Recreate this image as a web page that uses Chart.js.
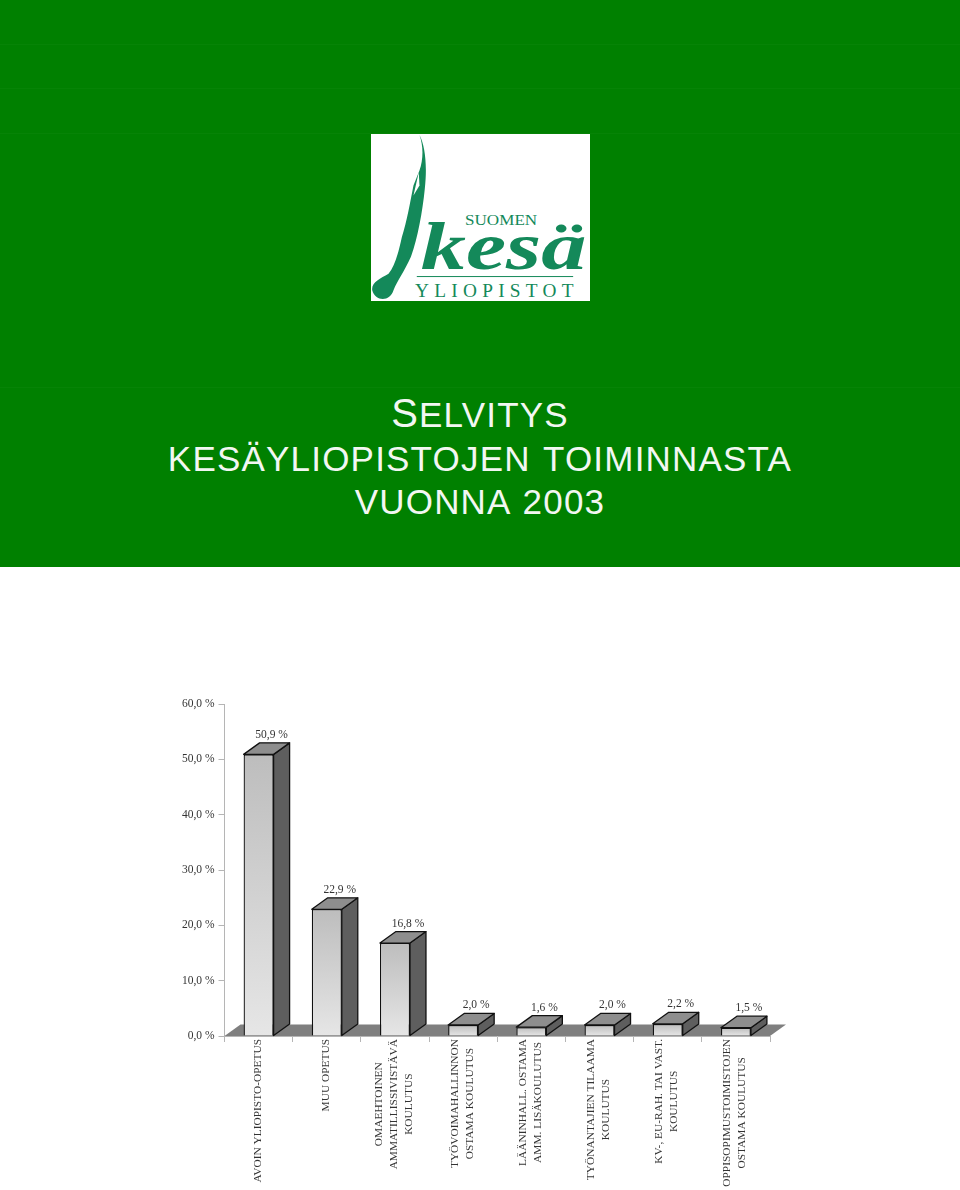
<!DOCTYPE html>
<html>
<head>
<meta charset="utf-8">
<title>Selvitys kesäyliopistojen toiminnasta vuonna 2003</title>
<script src="https://cdn.jsdelivr.net/npm/chart.js@4"></script>
<style>
html, body { margin: 0; padding: 0; background: #fff; }
#page { position: relative; width: 960px; height: 1190px; overflow: hidden; }
#header { position: absolute; left: 0; top: 0; width: 960px; height: 567px; background: #008000; }
.seam { position: absolute; left: 0; width: 960px; height: 1px; background: #068306; }
#logo { position: absolute; left: 371px; top: 134px; width: 219px; height: 167px; background: #fff; }
#title { position: absolute; left: 0; top: 392px; width: 960px; text-align: center; color: #f2f7f2;
  font-family: "Liberation Sans", sans-serif; font-size: 35px; line-height: 43.5px; letter-spacing: 1.2px; word-spacing: 2px; }
#title .big { font-size: 40px; }
#chartBox { position: absolute; left: 0; top: 568px; width: 960px; height: 622px; }
</style>
</head>
<body>
<div id="page">
  <div id="header">
    <div class="seam" style="top:44px"></div>
    <div class="seam" style="top:88px"></div>
    <div class="seam" style="top:133px"></div>
    <div class="seam" style="top:387px"></div>
    <div id="logo">
      <svg width="219" height="167" viewBox="33 25 657 502" fill="#14895a">
        <path d="M178,28 C195,60 202,120 194,190 C187,260 172,340 152,395 C132,440 112,465 100,495 C90,530 45,530 36,495 C33,470 60,460 85,445 C105,420 115,380 125,335 C140,290 150,230 160,180 L178,135 C190,100 190,60 178,28 Z"/>
        <path d="M176,140 L160,210 L178,180 Z" fill="#fff"/>
        <text x="315" y="300" font-family="Liberation Serif" font-size="45" textLength="217" lengthAdjust="spacingAndGlyphs">SUOMEN</text>
        <text x="182" y="430" font-family="Liberation Serif" font-size="205" font-style="italic" font-weight="bold" textLength="498" lengthAdjust="spacingAndGlyphs">kesä</text>
        <rect x="170" y="452" width="470" height="3"/>
        <text x="165" y="514" font-family="Liberation Serif" font-size="58" textLength="476">YLIOPISTOT</text>
      </svg>
    </div>
    <div id="title"><span class="big">S</span>ELVITYS<br>KESÄYLIOPISTOJEN TOIMINNASTA<br>VUONNA 2003</div>
  </div>
  <div id="chartBox"><canvas id="barChart" width="960" height="622"></canvas></div>
</div>

<script>
var categories = [
  ["AVOIN YLIOPISTO-OPETUS"],
  ["MUU OPETUS"],
  ["OMAEHTOINEN", "AMMATILLISSIVISTÄVÄ", "KOULUTUS"],
  ["TYÖVOIMAHALLINNON", "OSTAMA KOULUTUS"],
  ["LÄÄNINHALL. OSTAMA", "AMM. LISÄKOULUTUS"],
  ["TYÖNANTAJIEN TILAAMA", "KOULUTUS"],
  ["KV-, EU-RAH. TAI VAST.", "KOULUTUS"],
  ["OPPISOPIMUSTOIMISTOJEN", "OSTAMA KOULUTUS"]
];
var shares = [50.9, 22.9, 16.8, 2.0, 1.6, 2.0, 2.2, 1.5];

var serif = '"Liberation Serif", serif';
var depthX = 16;
var depthY = 11.5;

function percentText(value, digits) {
  return value.toFixed(digits).replace('.', ',') + ' %';
}

// floor under the bars, sides and tops of the bars, labels
var box3d = {
  id: 'box3d',
  beforeDatasetsDraw: function (chart) {
    var ctx = chart.ctx, area = chart.chartArea;
    ctx.save();
    ctx.fillStyle = '#7f7f7f';
    ctx.beginPath();
    ctx.moveTo(area.left, area.bottom);
    ctx.lineTo(area.left + depthX, area.bottom - depthY);
    ctx.lineTo(area.right + depthX, area.bottom - depthY);
    ctx.lineTo(area.right, area.bottom);
    ctx.closePath();
    ctx.fill();
    ctx.restore();
  },
  afterDatasetsDraw: function (chart) {
    var ctx = chart.ctx;
    var bars = chart.getDatasetMeta(0).data;
    ctx.save();
    ctx.lineWidth = 1.3;
    ctx.strokeStyle = '#111';
    ctx.lineJoin = 'round';
    bars.forEach(function (bar, i) {
      var left = bar.x - bar.width / 2, right = bar.x + bar.width / 2;
      // side
      ctx.fillStyle = '#5e5e5e';
      ctx.beginPath();
      ctx.moveTo(right, bar.base);
      ctx.lineTo(right + depthX, bar.base - depthY);
      ctx.lineTo(right + depthX, bar.y - depthY);
      ctx.lineTo(right, bar.y);
      ctx.closePath();
      ctx.fill();
      ctx.stroke();
      // top
      ctx.fillStyle = '#8e8e8e';
      ctx.beginPath();
      ctx.moveTo(left, bar.y);
      ctx.lineTo(left + depthX, bar.y - depthY);
      ctx.lineTo(right + depthX, bar.y - depthY);
      ctx.lineTo(right, bar.y);
      ctx.closePath();
      ctx.fill();
      ctx.stroke();
      // value
      ctx.fillStyle = '#333';
      ctx.font = '11.5px ' + serif;
      ctx.textAlign = 'center';
      ctx.textBaseline = 'middle';
      ctx.fillText(percentText(shares[i], 1), bar.x + 13, bar.y - depthY - 8);
    });
    ctx.restore();
  },
  afterDraw: function (chart) {
    // category names turned sideways, lines centred on the longest one
    var ctx = chart.ctx, x = chart.scales.x;
    ctx.save();
    ctx.fillStyle = '#333';
    ctx.font = '11.4px ' + serif;
    ctx.textAlign = 'center';
    ctx.textBaseline = 'middle';
    categories.forEach(function (lines, i) {
      var longest = 0;
      lines.forEach(function (line) {
        longest = Math.max(longest, ctx.measureText(line).width);
      });
      var px = x.getPixelForValue(i) - 1;
      var py = chart.chartArea.bottom + 3 + longest / 2;
      lines.forEach(function (line, n) {
        ctx.save();
        ctx.translate(px + (n - (lines.length - 1) / 2) * 15, py);
        ctx.rotate(-Math.PI / 2);
        ctx.fillText(line, 0, 0);
        ctx.restore();
      });
    });
    ctx.restore();
  }
};

var ctxB = document.getElementById('barChart').getContext('2d');
var myBarChart = new Chart(ctxB, {
  type: 'bar',
  plugins: [box3d],
  data: {
    labels: categories,
    datasets: [
      {
        label: 'Osuus',
        data: shares,
        barPercentage: 0.44,
        categoryPercentage: 1,
        borderWidth: 1.3,
        borderColor: '#111',
        backgroundColor: function (context) {
          var chart = context.chart;
          if (context.dataIndex === undefined || !chart.scales.y) return '#d0d0d0';
          var scale = chart.scales.y;
          var top = scale.getPixelForValue(shares[context.dataIndex]);
          var bottom = scale.getPixelForValue(0);
          if (!isFinite(top) || !isFinite(bottom)) return '#d0d0d0';
          var g = chart.ctx.createLinearGradient(0, top, 0, bottom);
          g.addColorStop(0, '#bdbdbd');
          g.addColorStop(1, '#e6e6e6');
          return g;
        }
      }
    ]
  },
  options: {
    responsive: false,
    animation: false,
    layout: { padding: { top: 136, right: 190, left: 0, bottom: 0 } },
    plugins: { legend: { display: false }, tooltip: { enabled: false } },
    scales: {
      x: {
        offset: true,
        afterFit: function (scale) { scale.height = 154; },
        grid: { offset: true, drawOnChartArea: false, drawTicks: true, tickLength: 6, color: '#b5b5b5' },
        border: { color: '#b5b5b5' },
        ticks: { display: false }
      },
      y: {
        min: 0,
        max: 60,
        afterFit: function (scale) { scale.width = 224.5; },
        grid: { drawOnChartArea: false, drawTicks: true, tickLength: 6, color: '#b5b5b5' },
        border: { color: '#b5b5b5' },
        ticks: {
          stepSize: 10,
          padding: 4,
          color: '#333',
          font: { family: serif, size: 11.5 },
          callback: function (value) { return percentText(value, 1); }
        }
      }
    }
  }
});
</script>
</body>
</html>
